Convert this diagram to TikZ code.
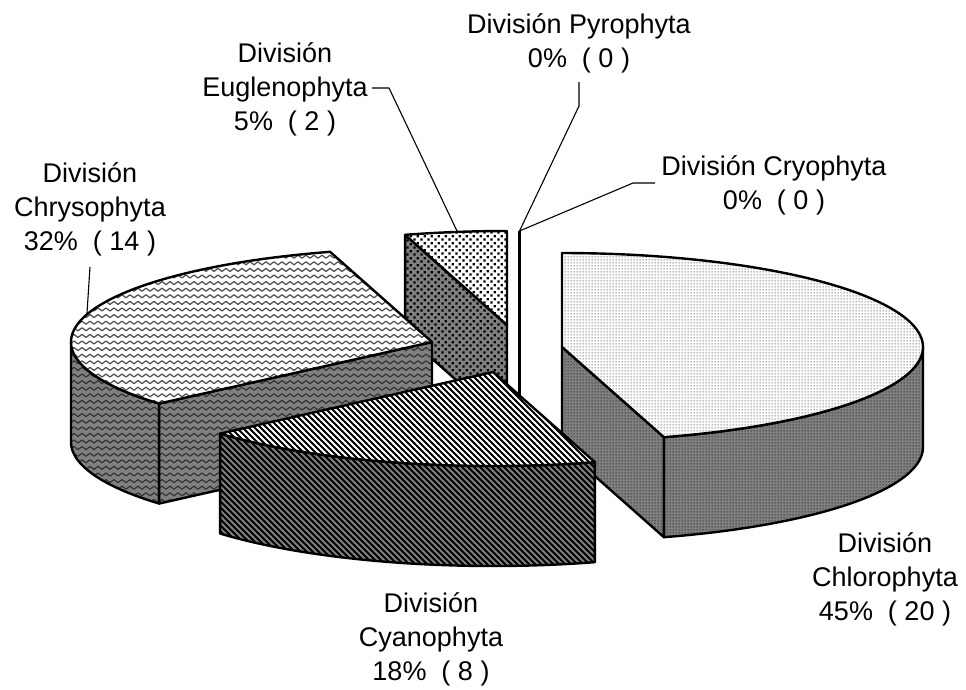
\documentclass[tikz,border=0pt]{standalone}
\usepackage{fontspec}
\setmainfont{Liberation Sans}
\usetikzlibrary{patterns}

\pgfdeclarepatternformonly{fdots}{\pgfqpoint{0pt}{0pt}}{\pgfqpoint{3pt}{3pt}}{\pgfqpoint{3pt}{3pt}}{%
  \pgfpathrectangle{\pgfqpoint{0.8pt}{0.8pt}}{\pgfqpoint{1.3pt}{1.3pt}}\pgfusepath{fill}}
\pgfdeclarepatternformonly{cdots}{\pgfqpoint{0pt}{0pt}}{\pgfqpoint{7pt}{7pt}}{\pgfqpoint{7pt}{7pt}}{%
  \pgfpathrectangle{\pgfqpoint{0.5pt}{0.5pt}}{\pgfqpoint{2.6pt}{2.6pt}}%
  \pgfpathrectangle{\pgfqpoint{4pt}{4pt}}{\pgfqpoint{2.6pt}{2.6pt}}\pgfusepath{fill}}
\pgfdeclarepatternformonly{diagstripes}{\pgfqpoint{-1pt}{-1pt}}{\pgfqpoint{7pt}{7pt}}{\pgfqpoint{6pt}{6pt}}{%
  \pgfsetlinewidth{2pt}%
  \pgfpathmoveto{\pgfqpoint{-0.5pt}{6.5pt}}\pgfpathlineto{\pgfqpoint{6.5pt}{-0.5pt}}\pgfusepath{stroke}}
\pgfdeclarepatternformonly{wavy}{\pgfqpoint{-1pt}{-1pt}}{\pgfqpoint{9pt}{7.6pt}}{\pgfqpoint{8pt}{6.6pt}}{%
  \pgfsetlinewidth{1.2pt}%
  \pgfpathmoveto{\pgfqpoint{0pt}{3.3pt}}%
  \pgfpathcurveto{\pgfqpoint{1.3pt}{5.3pt}}{\pgfqpoint{2.7pt}{5.3pt}}{\pgfqpoint{4pt}{3.3pt}}%
  \pgfpathcurveto{\pgfqpoint{5.3pt}{1.3pt}}{\pgfqpoint{6.7pt}{1.3pt}}{\pgfqpoint{8pt}{3.3pt}}%
  \pgfusepath{stroke}}

\newcommand\lbl[1]{\vtop{\baselineskip=34.3pt\halign{\hfil##\hfil\cr#1\crcr}}}
\newcommand\topface[5]{\path[#1] ({#2},{#3}) -- plot[domain=#4:#5, samples=120] ({#2+\rx*cos(\x)},{#3-\ry*sin(\x)}) -- cycle;}
\newcommand\outerface[5]{\path[#1] plot[domain=#4:#5, samples=120] ({#2+\rx*cos(\x)},{#3-\ry*sin(\x)}) -- plot[domain=#5:#4, samples=120] ({#2+\rx*cos(\x)},{#3+\hh-\ry*sin(\x)}) -- cycle;}
\newcommand\radface[4]{\path[#1] ({#2},{#3}) -- ({#2+\rx*cos(#4)},{#3-\ry*sin(#4)}) -- ++(0,\hh) -- ({#2},{#3+\hh}) -- cycle;}

\tikzset{
  face/.style={draw=black, line width=2.4pt, line join=round},
  chlotop/.style={face, preaction={fill=white}, pattern=fdots, pattern color=gray!75!black},
  chloside/.style={face, preaction={fill=gray}, pattern=fdots, pattern color=black!85},
  cyantop/.style={face, preaction={fill=white}, pattern=diagstripes, pattern color=black},
  cyanside/.style={face, preaction={fill=gray}, pattern=diagstripes, pattern color=black},
  chrytop/.style={face, preaction={fill=white}, pattern=wavy, pattern color=gray!60!black},
  chryside/.style={face, preaction={fill=gray}, pattern=wavy, pattern color=black!80},
  eugltop/.style={face, preaction={fill=white}, pattern=cdots, pattern color=black},
  euglside/.style={face, preaction={fill=gray}, pattern=cdots, pattern color=black},
  lab/.style={anchor=base, inner sep=0pt, font=\fontsize{27}{34.3}\selectfont},
  leader/.style={draw=black, line width=1.1pt}
}

\begin{document}
\begin{tikzpicture}[x=1pt,y=-1pt]
\useasboundingbox (0,0) rectangle (966,689);
\def\rx{361}\def\ry{94}\def\hh{100}

% Euglenophyta (back)
\radface{euglside}{507}{325}{106.4}
\topface{eugltop}{507}{325}{106.4}{90}

% zero slices (Pyrophyta, Cryophyta)
\coordinate (zeroTop) at (519.5,231);
\coordinate (zeroBot) at (519.5,426);
\draw[line width=2.6pt] (zeroTop) -- (zeroBot);

% Chrysophyta
\outerface{chryside}{432}{342}{180}{220.9}
\radface{chryside}{432}{342}{220.9}
\topface{chrytop}{432}{342}{106.4}{220.9}

% Chlorophyta
\outerface{chloside}{562}{347}{0}{-73.6}
\radface{chloside}{562}{347}{-73.6}
\topface{chlotop}{562}{347}{90}{-73.6}

% Cyanophyta
\outerface{cyanside}{493}{372}{-73.6}{-139.1}
\topface{cyantop}{493}{372}{-73.6}{-139.1}

% labels
\node[lab] (pyro) at (579,33) {\lbl{División Pyrophyta\cr 0\%\ \ ( 0 )}};
\node[lab] (cryo) at (774,175) {\lbl{División Cryophyta\cr 0\%\ \ ( 0 )}};
\node[lab] (eugl) at (285,62) {\lbl{División\cr Euglenophyta\cr 5\%\ \ ( 2 )}};
\node[lab] (chry) at (90,182) {\lbl{División\cr Chrysophyta\cr 32\%\ \ ( 14 )}};
\node[lab] (chlo) at (885,552) {\lbl{División\cr Chlorophyta\cr 45\%\ \ ( 20 )}};
\node[lab] (cyan) at (431,612) {\lbl{División\cr Cyanophyta\cr 18\%\ \ ( 8 )}};

% leader lines
\coordinate (pyroL) at (579,82);
\coordinate (cryoL) at (655,183);
\coordinate (euglL) at (372,88);
\coordinate (euglE) at (457,231);
\coordinate (chryL) at (90,267);
\coordinate (chryE) at (87,313);
\draw[leader] (pyroL) -- (579,106) -- (zeroTop);
\draw[leader] (cryoL) -- (633,183) -- (zeroTop);
\draw[leader] (euglL) -- (389,88) -- (euglE);
\draw[leader] (chryL) -- (chryE);
\end{tikzpicture}
\end{document}
